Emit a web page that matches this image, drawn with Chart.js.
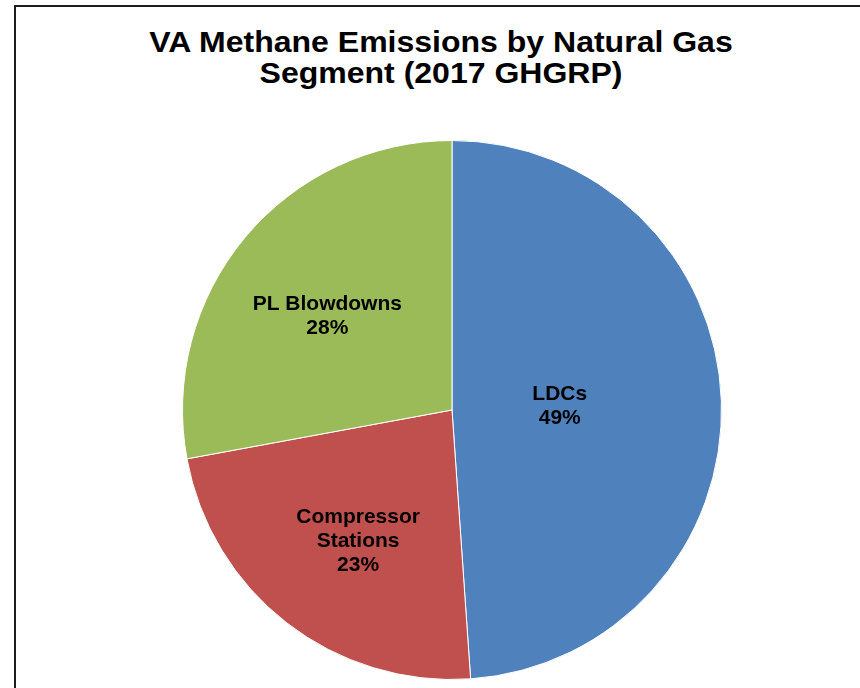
<!DOCTYPE html>
<html lang="en">
<head>
    <meta charset="UTF-8">
    <title>VA Methane Emissions by Natural Gas Segment (2017 GHGRP)</title>
    <script src="https://cdn.jsdelivr.net/npm/chart.js"></script>
    <style>
        html, body { margin: 0; padding: 0; background: #fff; overflow: hidden; }
        body { width: 860px; height: 688px; position: relative; font-family: 'Liberation Sans', Arial, sans-serif; }
        .frame {
            position: absolute; left: 14px; top: 5px;
            width: 900px; height: 760px;
            border: 2px solid #1c1c1c;
        }
        .chart-title {
            position: absolute; left: 15px; top: 26px; width: 852px;
            text-align: center; font-weight: bold; font-size: 30px; line-height: 31px;
            color: #000;
            transform: scaleX(1.067);
            transform-origin: 426px 0;
        }
        #pieChart { position: absolute; left: 0; top: 0; }
    </style>
</head>
<body>
    <div class="frame"></div>
    <div class="chart-title">VA Methane Emissions by Natural Gas<br>Segment (2017 GHGRP)</div>
    <canvas id="pieChart" width="860" height="688"></canvas>

    <script>
        // --- DATA ---
        const segments = ['LDCs', 'Compressor Stations', 'PL Blowdowns'];
        const labelLines = [['LDCs'], ['Compressor', 'Stations'], ['PL Blowdowns']];
        const shares = [48.9, 23.2, 27.9];
        const sliceColors = ['#4F81BD', '#C0504D', '#9BBB59'];

        // label placement: fraction of radius, and a small turn (degrees) off the slice middle
        const labelRadius = [0.40, 0.60, 0.58];
        const labelTurn = [0, -2.3, -2.7];

        // --- LABELS INSIDE SLICES ---
        const sliceLabels = {
            id: 'sliceLabels',
            afterDatasetsDraw(chart) {
                const ctx = chart.ctx;
                const meta = chart.getDatasetMeta(0);
                const total = shares.reduce((a, b) => a + b, 0);
                ctx.save();
                ctx.font = 'bold 21px "Liberation Sans", Arial, sans-serif';
                ctx.fillStyle = '#000';
                ctx.textAlign = 'center';
                ctx.textBaseline = 'middle';
                meta.data.forEach((arc, i) => {
                    const p = arc.getProps(['x', 'y', 'startAngle', 'endAngle', 'outerRadius'], true);
                    const mid = (p.startAngle + p.endAngle) / 2 + labelTurn[i] * Math.PI / 180;
                    const r = p.outerRadius * labelRadius[i];
                    const cx = p.x + Math.cos(mid) * r;
                    const cy = p.y + Math.sin(mid) * r;
                    const lines = labelLines[i].concat([Math.round(shares[i] / total * 100) + '%']);
                    const step = 24;
                    const top = cy - (lines.length - 1) * step / 2;
                    lines.forEach((t, k) => ctx.fillText(t, cx, top + k * step));
                });
                ctx.restore();
            }
        };

        // --- CHART.JS ---
        const ctx = document.getElementById('pieChart').getContext('2d');
        new Chart(ctx, {
            type: 'pie',
            data: {
                labels: segments,
                datasets: [{
                    data: shares,
                    backgroundColor: sliceColors,
                    borderColor: '#ffffff',
                    borderWidth: 1
                }]
            },
            options: {
                responsive: false,
                animation: false,
                layout: { padding: { left: 182, right: 138, top: 140, bottom: 8 } },
                plugins: {
                    legend: { display: false },
                    tooltip: { enabled: false }
                }
            },
            plugins: [sliceLabels]
        });
    </script>
</body>
</html>
